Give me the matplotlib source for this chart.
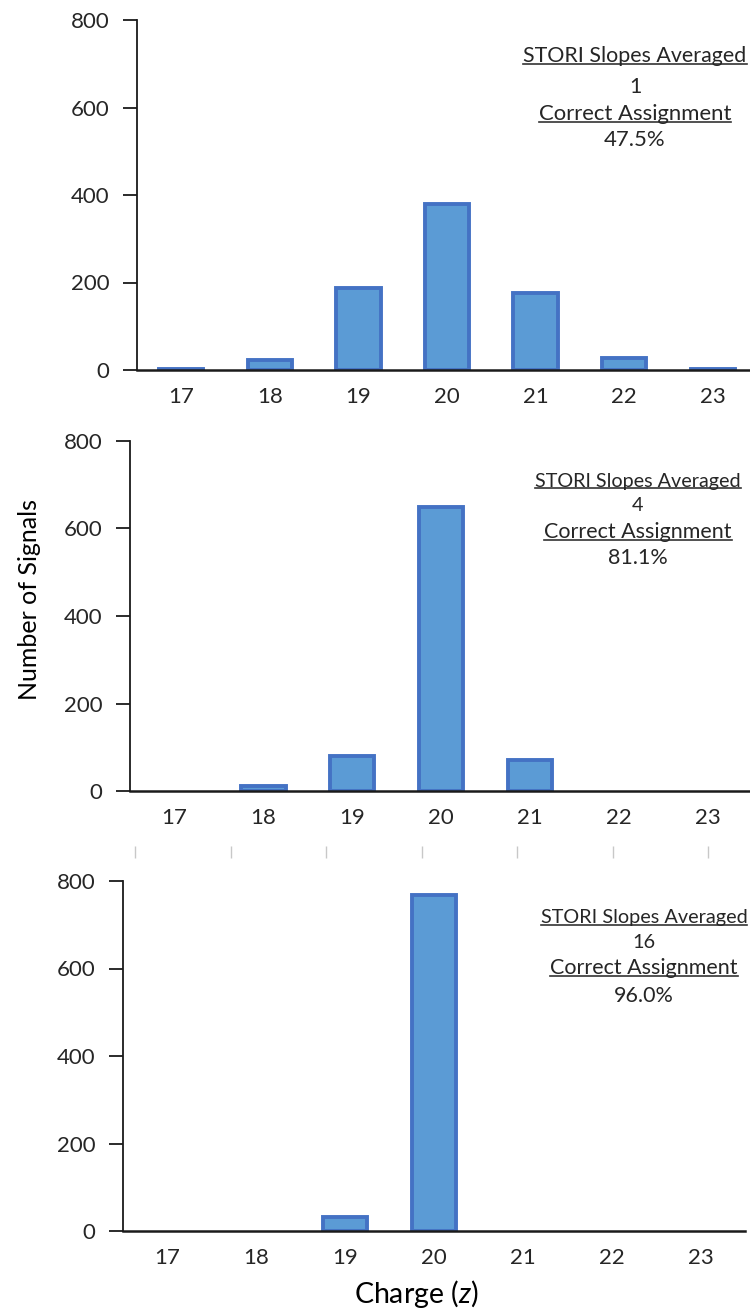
import matplotlib
matplotlib.use("Agg")
import matplotlib.pyplot as plt
from matplotlib.lines import Line2D

plt.rcParams['font.family'] = ['Lato', 'DejaVu Sans']
plt.rcParams['mathtext.fontset'] = 'custom'
plt.rcParams['mathtext.rm'] = 'Lato'
plt.rcParams['mathtext.it'] = 'Lato:italic'

# ---------------- data ----------------
charges = ["17", "18", "19", "20", "21", "22", "23"]
counts_1 = [3, 22, 188, 380, 177, 27, 3]
counts_4 = [0, 12, 80, 649, 71, 0, 0]
counts_16 = [0, 0, 32, 768, 0, 0, 0]
slopes = ["1", "4", "16"]
correct = ["47.5%", "81.1%", "96.0%"]
yticks = [0, 200, 400, 600, 800]

FILL = "#5B9BD5"
EDGE = "#4472C4"
TXT = "#262626"

W, H = 750, 1310
fig = plt.figure(figsize=(W / 100, H / 100), dpi=100)


def px_axes(left, right, top, bottom):
    return fig.add_axes([left / W, (H - bottom) / H, (right - left) / W, (bottom - top) / H])


# panel geometry in pixels: left, right, top(800), bottom(0)
geoms = [(137, 757, 20, 370), (130, 752, 441, 791), (123, 745, 881, 1231)]
series = [counts_1, counts_4, counts_16]
ann = [
    dict(xc=635, ys=[56, 87, 114, 140], fs1=15.4, fs2=15.9),
    dict(xc=638, ys=[481, 506, 532, 558], fs1=14.2, fs2=15.5),
    dict(xc=644, ys=[918, 942, 968, 996], fs1=14.3, fs2=15.5),
]

texts_to_underline = []
for i, (g, vals) in enumerate(zip(geoms, series)):
    ax = px_axes(*g)
    x = list(range(len(charges)))
    lws = [2.8 if v > 0 else 0 for v in vals]
    ax.bar(x, vals, width=0.5, color=FILL, edgecolor=EDGE, linewidth=lws, zorder=2)
    ax.set_xlim(-0.5, len(charges) - 0.5)
    ax.set_ylim(0, 800)
    ax.set_yticks(yticks)
    ax.set_xticks(x)
    ax.set_xticklabels(charges)
    for s in ("top", "right"):
        ax.spines[s].set_visible(False)
    ax.spines["left"].set_linewidth(1.3)
    ax.spines["left"].set_color("#1a1a1a")
    ax.spines["bottom"].set_linewidth(1.8)
    ax.spines["bottom"].set_color("#1a1a1a")
    ax.spines["bottom"].set_zorder(3)
    ax.tick_params(axis="y", length=10, width=1.3, color="#1a1a1a", pad=10,
                   labelsize=16, labelcolor=TXT)
    ax.tick_params(axis="x", length=0, pad=12, labelsize=16, labelcolor=TXT)
    ax.patch.set_alpha(0)

    a = ann[i]
    xc = a["xc"] / W
    t1 = fig.text(xc, 1 - a["ys"][0] / H, "STORI Slopes Averaged", ha="center", va="center",
                  fontsize=a["fs1"], color=TXT)
    fig.text(xc, 1 - a["ys"][1] / H, slopes[i], ha="center", va="center",
             fontsize=a["fs1"], color=TXT)
    t3 = fig.text(xc, 1 - a["ys"][2] / H, "Correct Assignment", ha="center", va="center",
                  fontsize=a["fs2"], color=TXT)
    fig.text(xc, 1 - a["ys"][3] / H, correct[i], ha="center", va="center",
             fontsize=a["fs2"], color=TXT)
    texts_to_underline += [t1, t3]

# faint tick marks between the second and third panels
axg = px_axes(135, 708, 851, 852)
axg.set_xlim(0, 6)
axg.set_ylim(0, 1)
axg.set_xticks(range(7))
axg.set_yticks([])
axg.tick_params(axis="x", direction="inout", length=9, width=1.0, color="#c8c8c8",
                labelbottom=False)
for s in axg.spines.values():
    s.set_visible(False)
axg.patch.set_alpha(0)

fig.text(30 / W, 1 - 600 / H, "Number of Signals", rotation=90, ha="center", va="center",
         fontsize=18, color="#000000")
fig.text(416 / W, 1 - 1294 / H, r"Charge ($\mathit{z}$)", ha="center", va="center",
         fontsize=20.5, color="#000000")

fig.canvas.draw()
r = fig.canvas.get_renderer()
for t in texts_to_underline:
    bb = t.get_window_extent(r)
    y = bb.y0 + 2
    fig.add_artist(Line2D([bb.x0 / W, bb.x1 / W], [y / H, y / H], transform=fig.transFigure,
                          color="#333333", linewidth=1.2))

fig.savefig("out.png", dpi=100)
